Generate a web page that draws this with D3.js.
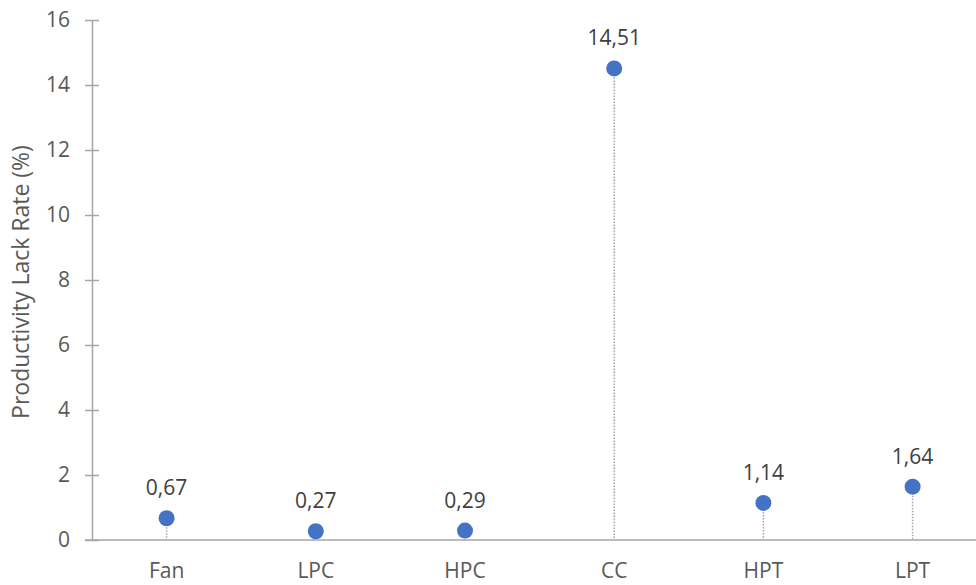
<!DOCTYPE html>
<html>
<head>
<meta charset="utf-8">
<script src="https://cdn.jsdelivr.net/npm/d3@7"></script>
<style>
  html, body { margin: 0; padding: 0; background: #fff; }
  svg { display: block; font-family: "Open Sans", "Noto Sans", sans-serif; }
</style>
</head>
<body>
<svg id="chart" width="976" height="585"></svg>
<script>
// Productivity lack rate per engine component
const components = ["Fan", "LPC", "HPC", "CC", "HPT", "LPT"];
const lackRate = [0.67, 0.27, 0.29, 14.51, 1.14, 1.64];
const valueLabels = ["0,67", "0,27", "0,29", "14,51", "1,14", "1,64"];
const yTicks = [0, 2, 4, 6, 8, 10, 12, 14, 16];
const yTitle = "Productivity Lack Rate (%)";

const svg = d3.select("#chart");
const margin = { left: 92, top: 20, bottom: 45 };
const bandW = 149.2;
const plotH = 585 - margin.top - margin.bottom;

const x = d3.scaleBand()
  .domain(components)
  .range([margin.left, margin.left + bandW * components.length]);
const y = d3.scaleLinear().domain([0, 16]).range([margin.top + plotH, margin.top]);
const cx = d => x(d) + x.bandwidth() / 2;

const axisColor = "#a6a6a6";
const textColor = "#595959";
const fontSize = 21;

// y axis with ticks crossing the axis line
const yAxis = svg.append("g")
  .attr("transform", `translate(${margin.left},0)`)
  .call(d3.axisLeft(y).tickValues(yTicks).tickSize(0).tickPadding(22));
yAxis.select(".domain").attr("stroke", axisColor).attr("stroke-width", 1.5);
yAxis.selectAll(".tick text")
  .attr("fill", textColor).attr("font-size", fontSize)
  .attr("font-family", "Open Sans, Noto Sans, sans-serif");
yAxis.selectAll(".tick").append("line")
  .attr("x1", -7).attr("x2", 7)
  .attr("stroke", axisColor).attr("stroke-width", 1.5);

// x axis baseline
svg.append("line")
  .attr("x1", margin.left - 7).attr("x2", 976)
  .attr("y1", y(0)).attr("y2", y(0))
  .attr("stroke", axisColor).attr("stroke-width", 1.5);

// category labels
svg.append("g").selectAll("text")
  .data(components).join("text")
  .attr("x", d => cx(d))
  .attr("y", 578)
  .attr("text-anchor", "middle")
  .attr("fill", textColor)
  .attr("font-size", fontSize)
  .text(d => d);

// y axis title
svg.append("text")
  .attr("transform", `translate(29,${margin.top + plotH / 2 + 2}) rotate(-90)`)
  .attr("text-anchor", "middle")
  .attr("fill", textColor)
  .attr("font-size", 23)
  .text(yTitle);

const data = components.map((c, i) => ({ c, v: lackRate[i], label: valueLabels[i] }));

// dotted drop lines
svg.append("g").selectAll("line")
  .data(data).join("line")
  .attr("x1", d => cx(d.c))
  .attr("x2", d => cx(d.c))
  .attr("y1", d => y(d.v))
  .attr("y2", y(0))
  .attr("stroke", "#a6a6a6")
  .attr("stroke-width", 1.5)
  .attr("stroke-dasharray", "1.5,1.5");

// markers
svg.append("g").selectAll("circle")
  .data(data).join("circle")
  .attr("cx", d => cx(d.c))
  .attr("cy", d => y(d.v))
  .attr("r", 8)
  .attr("fill", "#4472c4");

// value labels
svg.append("g").selectAll("text")
  .data(data).join("text")
  .attr("x", d => cx(d.c))
  .attr("y", d => y(d.v) - 23)
  .attr("text-anchor", "middle")
  .attr("fill", "#404040")
  .attr("font-size", fontSize)
  .text(d => d.label);
</script>
</body>
</html>
